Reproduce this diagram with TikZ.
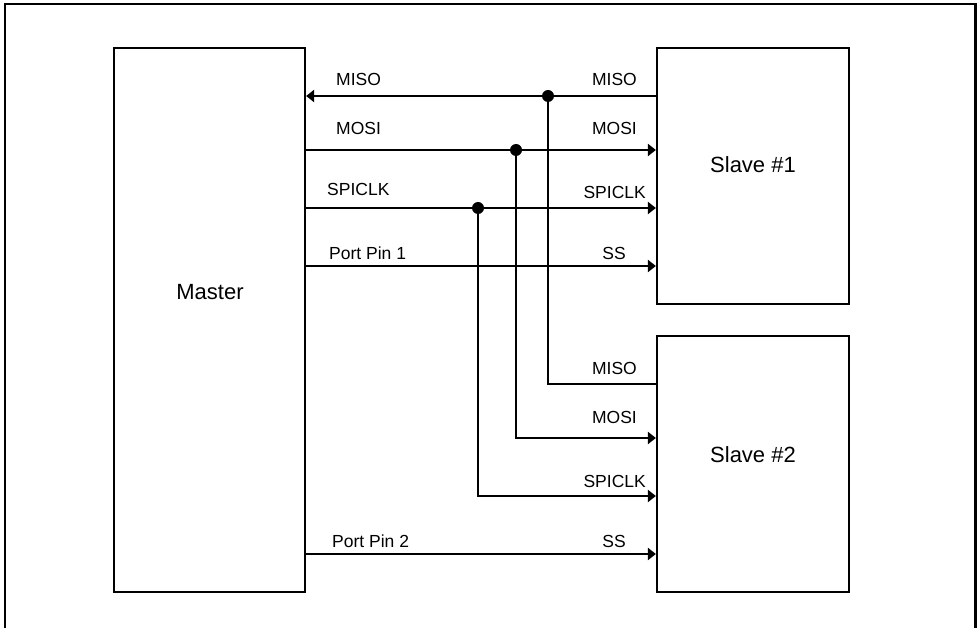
\documentclass[tikz,border=0pt]{standalone}
\usepackage{fontspec}
\setmainfont{Liberation Sans}
\usetikzlibrary{arrows.meta}
\begin{document}
\begin{tikzpicture}[x=1pt,y=-1pt,
  box/.style={draw, line width=2.2pt, minimum width=191pt, inner sep=0pt},
  sig/.style={line width=2pt},
  arr/.style={sig, -{Triangle[length=8pt,width=12pt]}},
  lbl/.style={font=\fontsize{17.5}{20}\selectfont, inner sep=0pt},
  big/.style={font=\fontsize{22}{26}\selectfont, inner sep=0pt},
  dot/.style={circle, fill, inner sep=0pt, minimum size=12pt}]
\useasboundingbox (0,0) rectangle (977,628);
\clip (0,0) rectangle (977,628);
\draw[line width=2.7pt] (5,640) -- (5,4) -- (975.5,4) -- (975.5,640);

\node[box, minimum height=544pt] (master) at (209.5,320) {};
\node[box, minimum width=192pt, minimum height=256pt] (slave1) at (753,176) {};
\node[box, minimum width=192pt, minimum height=256pt] (slave2) at (753,464) {};
\node[big, anchor=base] (mastertxt) at (210,300) {Master};
\node[big, anchor=base] (slave1txt) at (753,173) {Slave \#1};
\node[big, anchor=base] (slave2txt) at (753,462) {Slave \#2};

\coordinate (jmiso) at (548,96);
\coordinate (jmosi) at (516,150);
\coordinate (jclk) at (478,208);

% MISO
\draw[arr] (slave1.west |- jmiso) -- (master.east |- jmiso);
\draw[sig] (slave2.west |- 0,384) -| (jmiso);
% MOSI
\draw[arr] (master.east |- jmosi) -- (slave1.west |- jmosi);
\draw[arr] (jmosi) |- (slave2.west |- 0,438);
% SPICLK
\draw[arr] (master.east |- jclk) -- (slave1.west |- jclk);
\draw[arr] (jclk) |- (slave2.west |- 0,496);
% SS
\draw[arr] (master.east |- 0,266) -- (slave1.west |- 0,266);
\draw[arr] (master.east |- 0,554) -- (slave2.west |- 0,554);

\node[dot] (dmiso) at (jmiso) {};
\node[dot] (dmosi) at (jmosi) {};
\node[dot] (dclk) at (jclk) {};

% labels left
\node[lbl, anchor=base west] (l1) at (336,86) {MISO};
\node[lbl, anchor=base west] (l2) at (336,135) {MOSI};
\node[lbl, anchor=base west] (l3) at (327,196) {SPICLK};
\node[lbl, anchor=base west] (l4) at (329,260) {Port Pin 1};
\node[lbl, anchor=base west] (l5) at (332,547) {Port Pin 2};
% labels right, slave 1
\node[lbl, anchor=base east] (r1) at (637,86) {MISO};
\node[lbl, anchor=base east] (r2) at (637,135) {MOSI};
\node[lbl, anchor=base east] (r3) at (646,199) {SPICLK};
\node[lbl, anchor=base east] (r4) at (626,260) {SS};
% labels right, slave 2
\node[lbl, anchor=base east] (s1) at (637,374) {MISO};
\node[lbl, anchor=base east] (s2) at (637,423) {MOSI};
\node[lbl, anchor=base east] (s3) at (646,487) {SPICLK};
\node[lbl, anchor=base east] (s4) at (626,547) {SS};
\end{tikzpicture}
\end{document}
